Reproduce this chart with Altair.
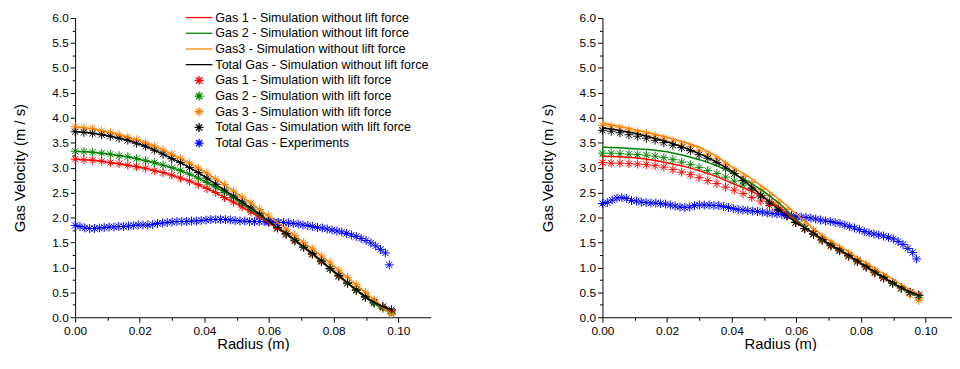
import altair as alt
import pandas as pd

FONT = "Liberation Sans"

# ---------------- data ----------------
SERIES_LINES = [
    "Gas 1 - Simulation without lift force",
    "Gas 2 - Simulation without lift force",
    "Gas3 - Simulation without lift force",
    "Total Gas - Simulation without lift force",
]
SERIES_POINTS = [
    "Gas 1 - Simulation with lift force",
    "Gas 2 - Simulation with lift force",
    "Gas 3 - Simulation with lift force",
    "Total Gas - Simulation with lift force",
    "Total Gas - Experiments",
]
LINE_COLORS = ["#ff0000", "#008000", "#ff8000", "#000000"]
POINT_COLORS = ["#ff0000", "#008000", "#ff8000", "#000000", "#0000ff"]

X_TICKS = [0.0, 0.01, 0.02, 0.03, 0.04, 0.05, 0.06, 0.07, 0.08, 0.09, 0.10]
Y_TICKS = [0.0, 0.25, 0.5, 0.75, 1.0, 1.25, 1.5, 1.75, 2.0, 2.25, 2.5, 2.75, 3.0,
           3.25, 3.5, 3.75, 4.0, 4.25, 4.5, 4.75, 5.0, 5.25, 5.5, 5.75, 6.0]

# radius grid of the simulation markers
R_PTS = [0.0, 0.0027, 0.0054, 0.0082, 0.0109, 0.0136, 0.0163, 0.0190, 0.0218, 0.0245,
         0.0272, 0.0299, 0.0326, 0.0354, 0.0381, 0.0408, 0.0435, 0.0462, 0.0490, 0.0517,
         0.0544, 0.0571, 0.0598, 0.0626, 0.0653, 0.0680, 0.0707, 0.0734, 0.0762, 0.0789,
         0.0816, 0.0843, 0.0870, 0.0898, 0.0925, 0.0952, 0.0979]
# radius grid of the right panel simulation lines
R_LINE = [0.0, 0.005, 0.01, 0.015, 0.02, 0.025, 0.03, 0.035, 0.04, 0.045, 0.05,
          0.055, 0.06, 0.065, 0.07, 0.075, 0.08, 0.085, 0.09, 0.095, 0.098]
# radius grid of the experiments
R_EXP = [0.0, 0.0015, 0.003, 0.0045, 0.006, 0.0075, 0.009, 0.0105, 0.012, 0.0135,
         0.015, 0.0165, 0.018, 0.0195, 0.021, 0.0225, 0.024, 0.0255, 0.027, 0.0285,
         0.03, 0.0315, 0.033, 0.0345, 0.036, 0.0375, 0.039, 0.0405, 0.042, 0.0435,
         0.045, 0.0465, 0.048, 0.0495, 0.051, 0.0525, 0.054, 0.0555, 0.057, 0.0585,
         0.06, 0.0615, 0.063, 0.0645, 0.066, 0.0675, 0.069, 0.0705, 0.072, 0.0735,
         0.075, 0.0765, 0.078, 0.0795, 0.081, 0.0825, 0.084, 0.0855, 0.087, 0.0885,
         0.09, 0.0915, 0.093, 0.0945, 0.096, 0.0972]

# ----- left panel (simulations with and without lift force coincide) -----
LEFT_GAS1 = [3.17, 3.16, 3.15, 3.13, 3.10, 3.08, 3.05, 3.02, 2.99, 2.94,
             2.90, 2.85, 2.79, 2.73, 2.66, 2.58, 2.50, 2.40, 2.31, 2.21,
             2.11, 2.01, 1.90, 1.78, 1.66, 1.53, 1.40, 1.26, 1.11, 0.97,
             0.82, 0.68, 0.54, 0.41, 0.30, 0.21, 0.12]
LEFT_GAS2 = [3.33, 3.32, 3.31, 3.29, 3.27, 3.24, 3.22, 3.18, 3.14, 3.10,
             3.05, 3.00, 2.94, 2.87, 2.79, 2.70, 2.61, 2.51, 2.40, 2.28,
             2.16, 2.04, 1.92, 1.80, 1.67, 1.54, 1.40, 1.27, 1.12, 0.97,
             0.83, 0.68, 0.54, 0.40, 0.28, 0.18, 0.08]
LEFT_GAS3 = [3.82, 3.80, 3.78, 3.74, 3.70, 3.66, 3.61, 3.56, 3.50, 3.43,
             3.35, 3.27, 3.18, 3.09, 2.99, 2.89, 2.77, 2.66, 2.53, 2.41,
             2.29, 2.16, 2.03, 1.90, 1.77, 1.64, 1.50, 1.37, 1.23, 1.09,
             0.94, 0.80, 0.65, 0.50, 0.35, 0.19, 0.06]
LEFT_TOTAL = [3.72, 3.71, 3.69, 3.66, 3.63, 3.59, 3.55, 3.49, 3.43, 3.35,
              3.27, 3.18, 3.10, 3.00, 2.90, 2.79, 2.67, 2.55, 2.43, 2.31,
              2.19, 2.07, 1.93, 1.80, 1.68, 1.55, 1.41, 1.28, 1.13, 0.98,
              0.84, 0.69, 0.55, 0.41, 0.30, 0.21, 0.15]
LEFT_EXP = [1.84, 1.82, 1.79, 1.78, 1.78, 1.79, 1.80, 1.81, 1.81, 1.82,
            1.82, 1.83, 1.84, 1.85, 1.85, 1.85, 1.86, 1.88, 1.89, 1.90,
            1.91, 1.92, 1.92, 1.92, 1.93, 1.93, 1.94, 1.95, 1.96, 1.96,
            1.96, 1.96, 1.95, 1.94, 1.93, 1.93, 1.92, 1.92, 1.92, 1.92,
            1.91, 1.91, 1.90, 1.90, 1.89, 1.88, 1.87, 1.85, 1.84, 1.82,
            1.80, 1.79, 1.77, 1.75, 1.73, 1.71, 1.68, 1.65, 1.62, 1.58,
            1.54, 1.49, 1.43, 1.36, 1.29, 1.05]

# ----- right panel -----
RIGHT_LINE_GAS1 = [3.23, 3.22, 3.20, 3.16, 3.10, 3.03, 2.94, 2.83, 2.69, 2.56, 2.41,
                   2.20, 1.92, 1.68, 1.45, 1.27, 1.06, 0.86, 0.67, 0.50, 0.44]
RIGHT_LINE_GAS2 = [3.41, 3.40, 3.38, 3.36, 3.32, 3.25, 3.16, 3.05, 2.90, 2.73, 2.52,
                   2.27, 1.95, 1.69, 1.46, 1.28, 1.07, 0.87, 0.67, 0.50, 0.42]
RIGHT_LINE_GAS3 = [3.89, 3.83, 3.76, 3.69, 3.61, 3.52, 3.41, 3.24, 3.02, 2.83, 2.60,
                   2.35, 2.07, 1.80, 1.55, 1.36, 1.15, 0.95, 0.76, 0.56, 0.46]
RIGHT_LINE_TOTAL = [3.80, 3.75, 3.69, 3.61, 3.52, 3.41, 3.28, 3.12, 2.93, 2.68, 2.40,
                    2.14, 1.89, 1.70, 1.47, 1.29, 1.08, 0.88, 0.68, 0.51, 0.44]
RIGHT_PTS_GAS1 = [3.10, 3.09, 3.09, 3.08, 3.07, 3.06, 3.04, 3.01, 2.96, 2.91,
                  2.86, 2.80, 2.74, 2.68, 2.61, 2.55, 2.48, 2.40, 2.33, 2.24,
                  2.14, 2.03, 1.90, 1.77, 1.66, 1.54, 1.43, 1.33, 1.22, 1.11,
                  1.00, 0.89, 0.78, 0.68, 0.58, 0.50, 0.45]
RIGHT_PTS_GAS2 = [3.29, 3.29, 3.28, 3.27, 3.26, 3.25, 3.23, 3.20, 3.16, 3.11,
                  3.06, 3.00, 2.94, 2.88, 2.81, 2.73, 2.65, 2.55, 2.45, 2.32,
                  2.19, 2.05, 1.91, 1.78, 1.67, 1.55, 1.44, 1.34, 1.23, 1.12,
                  1.01, 0.90, 0.79, 0.68, 0.58, 0.49, 0.40]
RIGHT_PTS_GAS3 = [3.85, 3.83, 3.80, 3.76, 3.72, 3.68, 3.64, 3.59, 3.53, 3.47,
                  3.42, 3.35, 3.27, 3.18, 3.07, 2.94, 2.82, 2.70, 2.56, 2.44,
                  2.30, 2.16, 2.01, 1.87, 1.74, 1.61, 1.50, 1.39, 1.28, 1.16,
                  1.06, 0.94, 0.82, 0.70, 0.58, 0.45, 0.34]
RIGHT_PTS_TOTAL = [3.75, 3.73, 3.70, 3.66, 3.63, 3.59, 3.55, 3.50, 3.45, 3.40,
                   3.34, 3.26, 3.19, 3.10, 2.99, 2.88, 2.74, 2.59, 2.43, 2.29,
                   2.16, 2.04, 1.90, 1.78, 1.67, 1.56, 1.45, 1.35, 1.24, 1.13,
                   1.02, 0.91, 0.80, 0.69, 0.59, 0.50, 0.44]
RIGHT_EXP = [2.28, 2.30, 2.35, 2.39, 2.40, 2.38, 2.34, 2.33, 2.31, 2.30,
             2.29, 2.29, 2.28, 2.27, 2.25, 2.23, 2.21, 2.20, 2.21, 2.24,
             2.25, 2.25, 2.25, 2.24, 2.24, 2.22, 2.20, 2.18, 2.16, 2.15,
             2.14, 2.13, 2.12, 2.11, 2.09, 2.08, 2.07, 2.06, 2.05, 2.04,
             2.02, 2.01, 2.00, 1.99, 1.97, 1.95, 1.93, 1.92, 1.90, 1.88,
             1.85, 1.82, 1.79, 1.76, 1.72, 1.69, 1.67, 1.65, 1.63, 1.60,
             1.57, 1.52, 1.46, 1.38, 1.30, 1.17]


def long_df(pairs):
    rows = []
    for name, rs, vs in pairs:
        for r, v in zip(rs, vs):
            rows.append({"r": r, "v": v, "series": name})
    return pd.DataFrame(rows)


left_lines = long_df([(SERIES_LINES[0], R_PTS, LEFT_GAS1), (SERIES_LINES[1], R_PTS, LEFT_GAS2),
                      (SERIES_LINES[2], R_PTS, LEFT_GAS3), (SERIES_LINES[3], R_PTS, LEFT_TOTAL)])
left_pts = long_df([(SERIES_POINTS[0], R_PTS, LEFT_GAS1), (SERIES_POINTS[1], R_PTS, LEFT_GAS2),
                    (SERIES_POINTS[2], R_PTS, LEFT_GAS3), (SERIES_POINTS[3], R_PTS, LEFT_TOTAL),
                    (SERIES_POINTS[4], R_EXP, LEFT_EXP)])
right_lines = long_df([(SERIES_LINES[0], R_LINE, RIGHT_LINE_GAS1), (SERIES_LINES[1], R_LINE, RIGHT_LINE_GAS2),
                       (SERIES_LINES[2], R_LINE, RIGHT_LINE_GAS3), (SERIES_LINES[3], R_LINE, RIGHT_LINE_TOTAL)])
right_pts = long_df([(SERIES_POINTS[0], R_PTS, RIGHT_PTS_GAS1), (SERIES_POINTS[1], R_PTS, RIGHT_PTS_GAS2),
                     (SERIES_POINTS[2], R_PTS, RIGHT_PTS_GAS3), (SERIES_POINTS[3], R_PTS, RIGHT_PTS_TOTAL),
                     (SERIES_POINTS[4], R_EXP, RIGHT_EXP)])

# ---------------- styling ----------------
LINE_SYMBOL = "M-2,0L2,0"
STAR_SYMBOL = "M-0.67,0L0.67,0M0,-0.67L0,0.67M-0.47,-0.47L0.47,0.47M-0.47,0.47L0.47,-0.47"
ALL_SERIES = SERIES_LINES + SERIES_POINTS
ALL_COLORS = LINE_COLORS + POINT_COLORS
ALL_SHAPES = [LINE_SYMBOL] * 4 + [STAR_SYMBOL] * 5

x_axis = alt.Axis(
    values=X_TICKS, title="Radius (m)", grid=False,
    labelExpr="(round(datum.value*100) % 2 == 0) ? format(datum.value, '.2f') : ''",
    tickSize={"condition": {"test": "round(datum.value*100) % 2 == 0", "value": 5}, "value": 3},
    labelFlush=False, labelOverlap=False, domainColor="black", tickColor="black",
    domainWidth=1, tickWidth=1,
    labelColor="black", titleColor="black", labelFont=FONT, titleFont=FONT,
    labelFontSize=12, titleFontSize=15, titleFontWeight="normal",
    labelPadding=3, titlePadding=-2, minExtent=22, maxExtent=22,
)
y_axis = alt.Axis(
    values=Y_TICKS, title="Gas Velocity (m / s)", grid=False,
    labelExpr="(abs(datum.value*2 - round(datum.value*2)) < 0.001) ? format(datum.value, '.1f') : ''",
    tickSize={"condition": {"test": "abs(datum.value*2 - round(datum.value*2)) < 0.001", "value": 5}, "value": 3},
    labelFlush=False, labelOverlap=False, domainColor="black", tickColor="black",
    domainWidth=1, tickWidth=1,
    labelColor="black", titleColor="black", labelFont=FONT, titleFont=FONT,
    labelFontSize=12, titleFontSize=15, titleFontWeight="normal",
    labelPadding=2, titlePadding=18, minExtent=30, maxExtent=30,
)

legend = alt.Legend(
    orient="none", legendX=118, legendY=-8, title=None, direction="vertical",
    labelFont=FONT, labelFontSize=12.7, labelColor="black", labelLimit=500,
    symbolSize=182, symbolStrokeWidth=1.3, labelOffset=9, rowPadding=0.9, padding=0,
    symbolOpacity=1,
)


def panel(lines_df, pts_df):
    x = alt.X("r:Q", scale=alt.Scale(domain=[0, 0.11], nice=False, zero=False), axis=x_axis)
    y = alt.Y("v:Q", scale=alt.Scale(domain=[0, 6], nice=False), axis=y_axis)
    pts = alt.Chart(pts_df).mark_point(filled=False, size=182, strokeWidth=1, opacity=1).encode(
        x=x, y=y,
        color=alt.Color("series:N", scale=alt.Scale(domain=ALL_SERIES, range=ALL_COLORS), legend=legend),
        shape=alt.Shape("series:N", scale=alt.Scale(domain=ALL_SERIES, range=ALL_SHAPES), legend=legend),
    )
    lines = alt.Chart(lines_df).mark_line(strokeWidth=1.5).encode(
        x=x, y=y,
        stroke=alt.Stroke("series:N", scale=alt.Scale(domain=SERIES_LINES, range=LINE_COLORS), legend=None),
    )
    return alt.layer(pts, lines).properties(width=360, height=303)


chart = alt.hconcat(panel(left_lines, left_pts), panel(right_lines, right_pts), spacing=111).properties(
    padding={"left": 5, "top": 0, "right": -6, "bottom": -3}, background="white"
).configure_view(strokeWidth=0, strokeOpacity=0)

chart.save("out.html", embed_options={"renderer": "svg", "actions": False})
